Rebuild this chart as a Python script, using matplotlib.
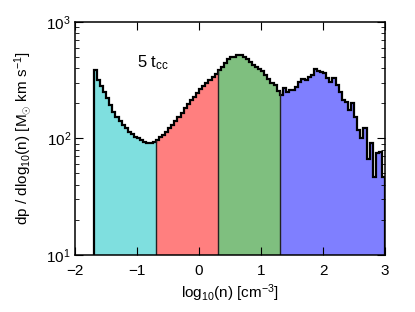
import numpy as np
import matplotlib
matplotlib.use("Agg")
import matplotlib.pyplot as plt

plt.rcParams['font.family'] = ['Liberation Sans', 'DejaVu Sans']
plt.rcParams['mathtext.fontset'] = 'custom'
plt.rcParams['mathtext.rm'] = 'Liberation Sans'
plt.rcParams['mathtext.it'] = 'Liberation Sans:italic'
plt.rcParams['mathtext.bf'] = 'Liberation Sans:bold'

# histogram: log10(n) bins of width 0.05 starting at -1.7
bin_start = -1.7
bin_width = 0.05

cyan_vals = [385, 316, 281, 251, 221, 193, 169, 153, 142, 130,
             122, 114, 108, 103.5, 100, 97, 94, 92, 91, 94]
red_vals = [97, 102, 107, 114, 122, 130, 142, 153, 166, 181,
            197, 213, 228, 246, 264, 281, 300, 316, 334, 356]
green_vals = [385, 411, 440, 476, 495, 501, 515, 519, 501, 476,
              454, 426, 407, 391, 380, 349, 321, 300, 287, 255]
blue_vals = [235, 269, 251, 260, 260, 277, 306, 321, 316, 338,
             349, 391, 380, 373, 361, 327, 306, 327, 287, 251,
             213, 206, 175, 200, 153, 118, 100, 122, 67, 91,
             47, 74.5, 77, 47]

region_colors = ['#7fdfdf', '#ff7f7f', '#7fbf7f', '#7f7fff']
label_text = r'5 t$_{\mathrm{cc}}$'

all_vals = np.array(cyan_vals + red_vals + green_vals + blue_vals, dtype=float)
edges = bin_start + bin_width * np.arange(len(all_vals) + 1)

fig = plt.figure(figsize=(4.15, 3.12), dpi=100)
ax = fig.add_axes([0.181, 0.183, 0.747, 0.747])

ymin = 10
start = 0
for vals, col in zip([cyan_vals, red_vals, green_vals, blue_vals], region_colors):
    n = len(vals)
    ax.stairs(vals, edges[start:start + n + 1], baseline=ymin, fill=True,
              color=col, linewidth=0)
    start += n

# boundary lines between regions
idx = 0
for vals in [cyan_vals, red_vals, green_vals]:
    idx += len(vals)
    xb = edges[idx]
    ax.vlines(xb, ymin, max(all_vals[idx - 1], all_vals[idx]), color='#222222', lw=1.0)

ax.stairs(all_vals, edges, baseline=ymin, fill=False, color='black', lw=1.6)

ax.set_yscale('log')
ax.set_xlim(-2, 3)
ax.set_ylim(10, 1000)
ax.set_xticks([-2, -1, 0, 1, 2, 3])
ax.set_xticklabels(['\u22122', '\u22121', '0', '1', '2', '3'])

ax.tick_params(which='both', direction='in', top=True, right=True, labelsize=11)
ax.tick_params(which='major', length=5.5, width=0.8)
ax.tick_params(which='minor', length=3, width=0.6)
ax.tick_params(axis='x', which='major', pad=6.5)
ax.tick_params(axis='y', which='major', pad=3)
for s in ax.spines.values():
    s.set_linewidth(1.1)

ax.set_xlabel(r'log$_{10}$(n) [cm$^{-3}$]', fontsize=11, labelpad=3)
ax.set_ylabel(r'dp / dlog$_{10}$(n) [M$_{\odot}$ km s$^{-1}$]', fontsize=11, labelpad=10)

ax.text(-1.0, 450, label_text, fontsize=12, va='center', ha='left')

fig.savefig('out.png', dpi=100)
